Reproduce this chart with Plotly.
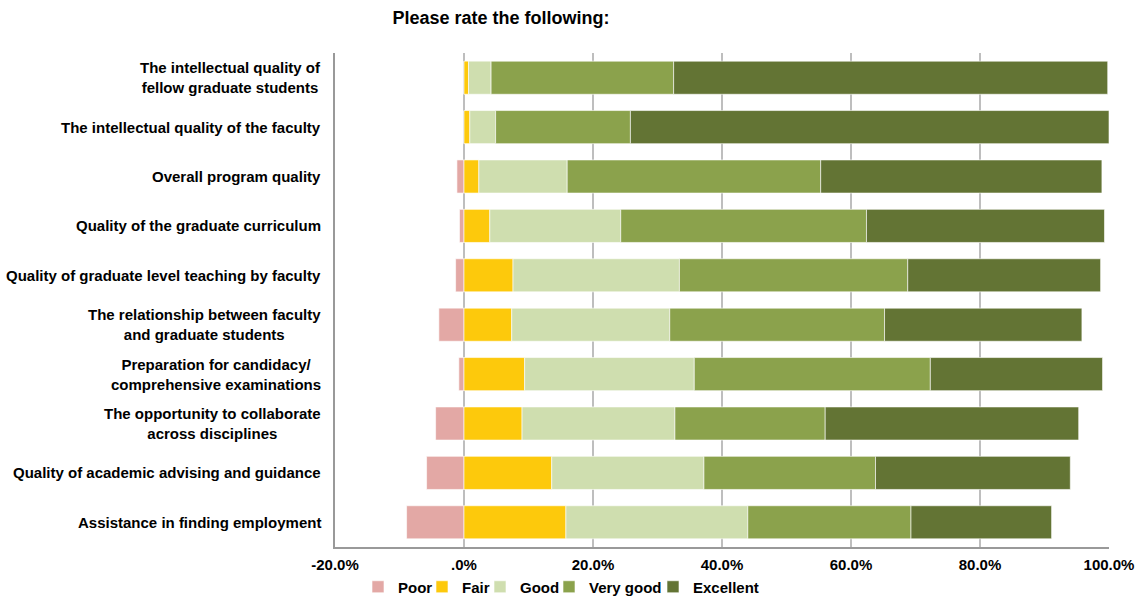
import plotly.graph_objects as go

categories = [
    "The intellectual quality of<br>fellow graduate students",
    "The intellectual quality of the faculty",
    "Overall program quality",
    "Quality of the graduate curriculum",
    "Quality of graduate level teaching by faculty",
    "The relationship between faculty<br>and graduate students",
    "Preparation for candidacy/<br>comprehensive examinations",
    "The opportunity to collaborate<br>across disciplines",
    "Quality of academic advising and guidance",
    "Assistance in finding employment",
]

poor = [0.0, 0.0, -1.1, -0.7, -1.3, -3.9, -0.8, -4.4, -5.8, -8.9]
fair = [0.7, 0.9, 2.3, 4.0, 7.6, 7.4, 9.4, 9.0, 13.6, 15.8]
good = [3.5, 4.0, 13.7, 20.3, 25.8, 24.5, 26.3, 23.7, 23.6, 28.2]
very_good = [28.3, 20.9, 39.3, 38.1, 35.4, 33.3, 36.6, 23.3, 26.6, 25.3]
excellent = [67.3, 74.2, 43.6, 36.9, 29.9, 30.6, 26.7, 39.3, 30.2, 21.8]

tick_vals = [-20, 0, 20, 40, 60, 80, 100]
tick_text = ["-20.0%", ".0%", "20.0%", "40.0%", "60.0%", "80.0%", "100.0%"]

series_names = ["Poor", "Fair", "Good", "Very good", "Excellent"]
series_values = [poor, fair, good, very_good, excellent]
series_colors = ["#E3A8A5", "#FDC90C", "#CFDEAF", "#8BA24C", "#637434"]

W, H = 1138, 596
font_family = "Liberation Sans, Arial, sans-serif"

fig = go.Figure()
legend_ids = ["legend", "legend2", "legend3", "legend4", "legend5"]
for name, vals, color, lg in zip(series_names, series_values, series_colors, legend_ids):
    fig.add_trace(go.Bar(
        y=categories, x=vals, name=name, orientation="h",
        marker=dict(color=color, line=dict(color="rgba(255,255,255,0.6)", width=1)),
        width=0.67, legend=lg,
    ))

for c in categories:
    fig.add_annotation(
        x=0, xref="paper", y=c, yref="y", text=c, showarrow=False,
        xanchor="right", xshift=-12, align="center",
        font=dict(family=font_family, size=15, color="#000000", weight="bold"),
    )

legend_text_starts = [398, 462, 520, 589, 693]
legend_layout = {}
for lg, xs in zip(legend_ids, legend_text_starts):
    legend_layout[lg] = dict(
        orientation="h", x=(xs - 40) / W, xref="container", xanchor="left",
        y=1 - 587 / H, yref="container", yanchor="middle",
        font=dict(family=font_family, size=15, color="#000000", weight="bold"),
        itemwidth=30, bgcolor="rgba(0,0,0,0)",
    )

fig.update_layout(
    width=W, height=H,
    barmode="relative",
    paper_bgcolor="white", plot_bgcolor="white",
    margin=dict(l=335, r=29, t=53, b=49, autoexpand=False),
    font=dict(family=font_family, size=15, color="#000000"),
    title=dict(
        text="<b>Please rate the following:</b>",
        x=501 / W, xanchor="center", xref="container",
        y=1 - 18 / H, yanchor="middle", yref="container",
        font=dict(family=font_family, size=18, color="#000000"),
    ),
    xaxis=dict(
        range=[-20, 100], tickvals=tick_vals, ticktext=tick_text,
        showgrid=True, gridcolor="#BEBEBE", gridwidth=1.5,
        zeroline=False, showline=True, linecolor="#999999", linewidth=2,
        ticks="outside", ticklen=3, tickcolor="rgba(0,0,0,0)",
        tickfont=dict(family=font_family, size=15, color="#000000", weight="bold"),
        automargin=False, fixedrange=True,
    ),
    yaxis=dict(
        autorange="reversed", showticklabels=False, showgrid=False,
        showline=True, linecolor="#999999", linewidth=2, zeroline=False,
        automargin=False,
    ),
    showlegend=True,
    **legend_layout,
)

fig.write_html("out.html")
